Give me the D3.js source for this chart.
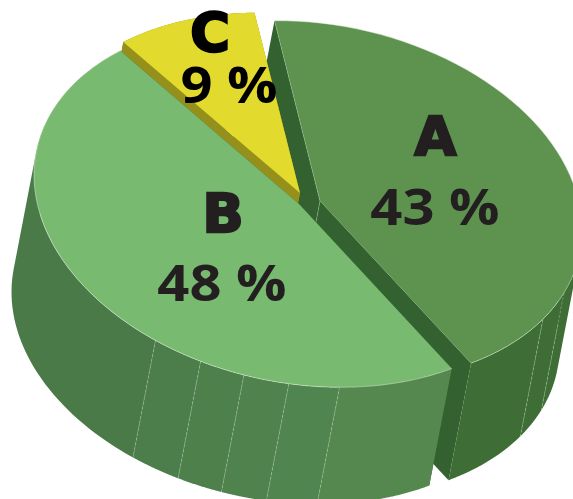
<!DOCTYPE html>
<html>
  <head>
    <meta charset="utf-8" />
    <script src="https://d3js.org/d3.v7.min.js"></script>
    <style>
      body { margin: 0; background: #fff; }
      svg { display: block; }
      text { text-anchor: middle; font-weight: 700; }
    </style>
  </head>
  <body>
    <svg id="chart" width="573" height="499"></svg>
    <script>
      const categories = ["B", "C", "A"];
      const values = [48, 9, 43];
      // where the side wall facets change shade, degrees round the disc
      const wallBreaks = {
        A: [350, 381.4, 391.7, 414.8],
        B: [54.8, 81.2, 92.2, 102.0, 111.8, 122.8, 227.6],
        C: [227.6, 260]
      };
      const wallColors = {
        A: ["#3e6d36", "#3e6d36", "#3e6d36"],
        B: ["#55884f", "#518550", "#50824d", "#4e804c", "#4c7e4b", "#4a7a48"],
        C: ["#95901c"]
      };
      const topColors = { A: "#5e934f", B: "#78bb70", C: "#e3da2e" };
      const radialColors = { A: "#33612f", B: "#33612f", C: "#95901c" };
      const apex = { A: [320, 201], B: [299, 204], C: [300, 193] };
      const disc = {
        A: { rx: 262, ry: 178, skew: 29 },
        B: { rx: 265, ry: 181, skew: 29 },
        C: { rx: 262, ry: 178, skew: 29 }
      };

      const depth = [-22.5, 117];
      const rad = (d) => (d * Math.PI) / 180;

      const svg = d3.select("#chart");
      const line = d3.line();

      function project(name, t) {
        const c = Math.cos(t);
        const s = Math.sin(t);
        const d = disc[name];
        return [apex[name][0] + d.rx * c, apex[name][1] + d.skew * c + d.ry * s];
      }
      function arcPoints(name, a0, a1) {
        return d3.range(0, 61).map((i) => project(name, a0 + ((a1 - a0) * i) / 60));
      }
      const down = (p) => [p[0] + depth[0], p[1] + depth[1]];

      // sweep the arc along the depth, small quads all wound the same way
      function sweepPath(top) {
        let out = "";
        for (let i = 0; i < top.length - 1; i++) {
          let quad = [top[i], top[i + 1], down(top[i + 1]), down(top[i])];
          if (d3.polygonArea(quad) < 0) quad = quad.reverse();
          out += line(quad) + "Z";
        }
        return out;
      }

      const pie = d3.pie().sort(null).startAngle(rad(54.8)).endAngle(rad(414.8));
      const slices = pie(values).map((d, i) => ({ name: categories[i], a0: d.startAngle, a1: d.endAngle }));

      function drawSlice(s) {
        const name = s.name;
        const g = svg.append("g");
        const c = apex[name];
        // radial walls first
        [s.a0, s.a1].forEach((a) => {
          const p = project(name, a);
          g.append("path")
            .attr("d", line([c, p, down(p), down(c)]) + "Z")
            .attr("fill", radialColors[name]);
        });
        // outer wall, one piece per facet
        const br = wallBreaks[name];
        wallColors[name].forEach((col, i) => {
          const top = arcPoints(name, rad(br[i]), rad(br[i + 1]));
          g.append("path")
            .attr("d", sweepPath(top))
            .attr("fill", col);
          if (i > 0) {
            const p = project(name, rad(br[i]));
            g.append("path")
              .attr("d", line([p, down(p)]))
              .attr("stroke", "#c9d8c2")
              .attr("stroke-width", 0.8)
              .attr("stroke-opacity", 0.45)
              .attr("stroke-dasharray", "3,1.5");
          }
        });
        // top face
        const arc = arcPoints(name, s.a0, s.a1);
        g.append("path")
          .attr("d", line([c].concat(arc)) + "Z")
          .attr("fill", topColors[name]);
        if (name !== "C") {
          g.append("path")
            .attr("d", line(arc))
            .attr("fill", "none")
            .attr("stroke", "#e4eedc")
            .attr("stroke-width", 0.7)
            .attr("stroke-opacity", 0.7);
        }
      }

      // back to front
      ["A", "C", "B"].forEach((n) => drawSlice(slices.find((d) => d.name === n)));

      // faint edge along A's left side
      const aSlice = slices.find((d) => d.name === "A");
      svg.append("path")
        .attr("d", line([project("A", aSlice.a0), apex.A, [316, 222]]))
        .attr("fill", "none")
        .attr("stroke", "#a9c5a0")
        .attr("stroke-width", 0.7)
        .attr("stroke-opacity", 0.6);

      const letterPos = { A: [435.5, 155], B: [223, 232], C: [210, 51] };
      const pctPos = { A: [435, 225], B: [222, 301], C: [229, 103] };
      const textColors = { A: "#231f20", B: "#231f20", C: "#000" };

      categories.forEach((n, i) => {
        svg.append("text")
          .attr("x", letterPos[n][0])
          .attr("y", letterPos[n][1])
          .attr("font-family", "DejaVu Sans")
          .attr("font-size", 54)
          .attr("fill", textColors[n])
          .attr("stroke", textColors[n])
          .attr("stroke-width", 2.5)
          .text(n);
        svg.append("text")
          .attr("transform", `translate(${pctPos[n][0]},${pctPos[n][1]}) scale(1.1,1)`)
          .attr("font-family", "Open Sans")
          .attr("font-size", 51)
          .attr("fill", textColors[n])
          .text(values[i] + " %");
      });
    </script>
  </body>
</html>
